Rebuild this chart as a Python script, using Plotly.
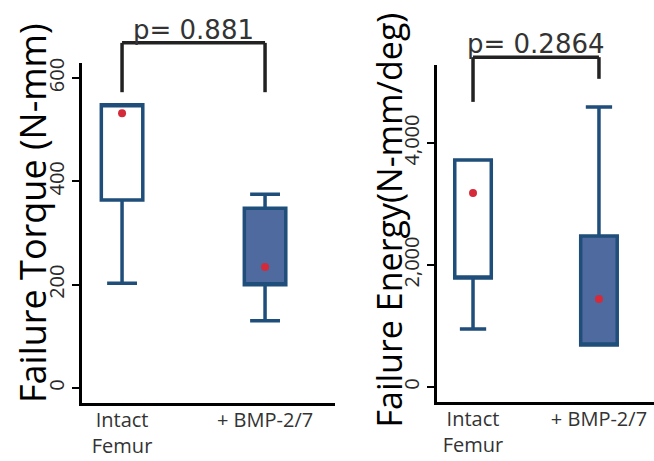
import plotly.graph_objects as go

# ---- data ----
groups = ["Intact<br>Femur", "+ BMP-2/7"]

torque_q1 = [364, 200]
torque_median = [548, 200]
torque_q3 = [548, 348]
torque_low = [203, 130]
torque_high = [548, 375]
torque_mean = [532, 234]
torque_p = "p= 0.881"
torque_title = "Failure Torque (N-mm)"

energy_q1 = [1787, 688]
energy_median = [1787, 688]
energy_q3 = [3721, 2475]
energy_low = [951, 688]
energy_high = [3721, 4590]
energy_mean = [3180, 1443]
energy_p = "p= 0.2864"
energy_title = "Failure Energy(N-mm/deg)"

fills = ["white", "#4f6a9e"]
outline = "#1f4e7a"
mean_color = "#d42a3a"

fig = go.Figure()

def add_panel(xa, ya, q1, med, q3, lo, hi, mean):
    for i, g in enumerate(groups):
        fig.add_trace(go.Box(
            x=[g], q1=[q1[i]], median=[med[i]], q3=[q3[i]],
            lowerfence=[lo[i]], upperfence=[hi[i]],
            width=0.29, whiskerwidth=0.72, fillcolor=fills[i],
            line=dict(color=outline, width=3.5), boxpoints=False,
            xaxis=xa, yaxis=ya, showlegend=False, hoverinfo="skip"))
    fig.add_trace(go.Scatter(
        x=groups, y=mean, mode="markers",
        marker=dict(color=mean_color, size=8),
        xaxis=xa, yaxis=ya, showlegend=False, hoverinfo="skip"))

add_panel("x", "y", torque_q1, torque_median, torque_q3, torque_low, torque_high, torque_mean)
add_panel("x2", "y2", energy_q1, energy_median, energy_q3, energy_low, energy_high, energy_mean)

xcommon = dict(showline=True, linewidth=3, linecolor="black", showgrid=False,
               zeroline=False, ticks="", type="category", automargin=False,
               ticklabelstandoff=-3,
               tickfont=dict(family="Open Sans", size=20, color="#333"))
ycommon = dict(showline=True, linewidth=3, linecolor="black", showgrid=False,
               zeroline=False, ticks="outside", ticklen=7, tickwidth=2,
               tickcolor="black", tickangle=-90, automargin=False,
               tickfont=dict(family="Open Sans", size=20, color="#2a2a2a"))

fig.update_layout(
    width=654, height=461,
    margin=dict(l=0, r=0, t=0, b=0),
    paper_bgcolor="white", plot_bgcolor="white",
    xaxis=dict(xcommon, domain=[0.1254, 0.5122], range=[-0.28, 1.489]),
    yaxis=dict(ycommon, domain=[0.1258, 0.8633], range=[-29, 629],
               tickvals=[0, 200, 400, 600]),
    xaxis2=dict(xcommon, domain=[0.6682, 1.0], range=[-0.286, 1.437], anchor="y2"),
    yaxis2=dict(ycommon, domain=[0.128, 0.859], range=[-246, 5279], anchor="x2",
                tickvals=[0, 2000, 4000], tickformat=","),
)

# axis titles
fig.add_annotation(xref="paper", yref="paper", x=0.0505, y=0.538, textangle=-90,
                   xanchor="center", yanchor="middle",
                   text=torque_title, showarrow=False,
                   font=dict(family="Open Sans", size=36, color="black"))
fig.add_annotation(xref="paper", yref="paper", x=0.595, y=0.522, textangle=-90,
                   xanchor="center", yanchor="middle",
                   text=energy_title, showarrow=False,
                   font=dict(family="Open Sans", size=34, color="black"))

# significance brackets
br = dict(color="#222", width=3.5)
def bracket(xref, ytop, yl, yr, text):
    fig.add_shape(type="line", xref=xref, yref="paper", x0=0, x1=0, y0=yl, y1=ytop, line=br)
    fig.add_shape(type="line", xref=xref, yref="paper", x0=1, x1=1, y0=yr, y1=ytop, line=br)
    fig.add_shape(type="line", xref=xref, yref="paper", x0=0, x1=1, y0=ytop, y1=ytop, line=br)
    fig.add_annotation(xref=xref, yref="paper", x=0.5, y=ytop, yanchor="bottom",
                       xanchor="center",
                       text=text, showarrow=False, yshift=-4,
                       font=dict(family="DejaVu Sans", size=26, color="#333"))

bracket("x", 0.907, 0.800, 0.800, torque_p)
bracket("x2", 0.876, 0.779, 0.829, energy_p)

fig.write_html("out.html")
